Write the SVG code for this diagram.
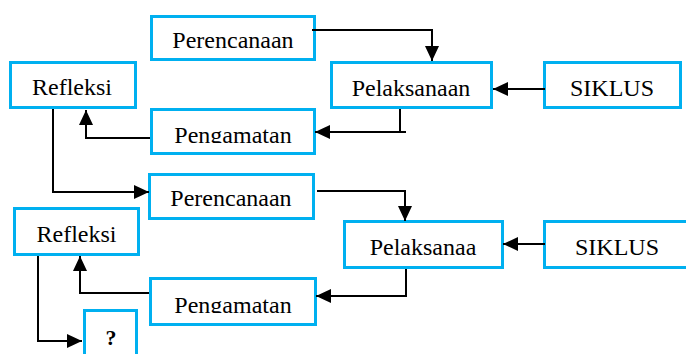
<svg xmlns="http://www.w3.org/2000/svg" width="686" height="354" viewBox="0 0 686 354">
<style>
.box{fill:#fff;stroke:#00b0f0;stroke-width:3}
.t{font-family:"Liberation Serif","Times New Roman",serif;font-size:24px;fill:#000;text-anchor:middle}
.c{fill:none;stroke:#000;stroke-width:2;marker-end:url(#ah)}
</style>
<defs>
<marker id="ah" markerUnits="userSpaceOnUse" markerWidth="16" markerHeight="14" refX="15" refY="7" orient="auto">
<path d="M0,0 L15,7 L0,14 z" fill="#000"/>
</marker>
<clipPath id="cp1"><rect x="150" y="100" width="170" height="43"/></clipPath>
<clipPath id="cp2"><rect x="150" y="270" width="170" height="43"/></clipPath>
</defs>
<rect width="686" height="354" fill="#fff"/>
<g id="perencanaan1"><rect class="box" x="151.5" y="16.5" width="163" height="43"/><text class="t" x="233" y="48">Perencanaan</text></g>
<g id="refleksi1"><rect class="box" x="10.5" y="62.5" width="125" height="45"/><text class="t" x="72" y="95">Refleksi</text></g>
<g id="pengamatan1"><rect class="box" x="151.5" y="109.5" width="163" height="44"/><text class="t" x="233" y="143" clip-path="url(#cp1)">Pengamatan</text></g>
<g id="pelaksanaan1"><rect class="box" x="331.5" y="62.5" width="160" height="45"/><text class="t" x="411" y="96">Pelaksanaan</text></g>
<g id="siklus1"><rect class="box" x="544.5" y="62.5" width="136" height="45"/><text class="t" x="612" y="96">SIKLUS</text></g>
<g id="perencanaan2"><rect class="box" x="149.5" y="174.5" width="164" height="44"/><text class="t" x="231" y="206">Perencanaan</text></g>
<g id="refleksi2"><rect class="box" x="14.5" y="208.5" width="124" height="46"/><text class="t" x="76.5" y="242">Refleksi</text></g>
<g id="pengamatan2"><rect class="box" x="150.5" y="278.5" width="165" height="46"/><text class="t" x="233" y="313" clip-path="url(#cp2)">Pengamatan</text></g>
<g id="pelaksanaan2"><rect class="box" x="344.5" y="221.5" width="158" height="46"/><text class="t" x="423" y="255">Pelaksanaa</text></g>
<g id="siklus2"><rect class="box" x="544.5" y="221.5" width="150" height="46"/><text class="t" x="617" y="255">SIKLUS</text></g>
<g id="next"><rect class="box" x="84.5" y="310.5" width="52" height="50"/><text class="t" x="111" y="345" style="font-weight:bold;font-size:22px">?</text></g>
<g id="connectors">
<path class="c" d="M312,30 H432 V61"/>
<path class="c" d="M545,89 H493"/>
<path class="c" d="M400,109 V132 M406,132 H315"/>
<path class="c" d="M150,138 H86 V110"/>
<path class="c" d="M53,109 V192 H149"/>
<path class="c" d="M317,191 H405 V221"/>
<path class="c" d="M545,244 H503"/>
<path class="c" d="M406,269 V296 H316"/>
<path class="c" d="M149,293 H80 V256"/>
<path class="c" d="M38,256 V341 H82"/>
</g>
</svg>
